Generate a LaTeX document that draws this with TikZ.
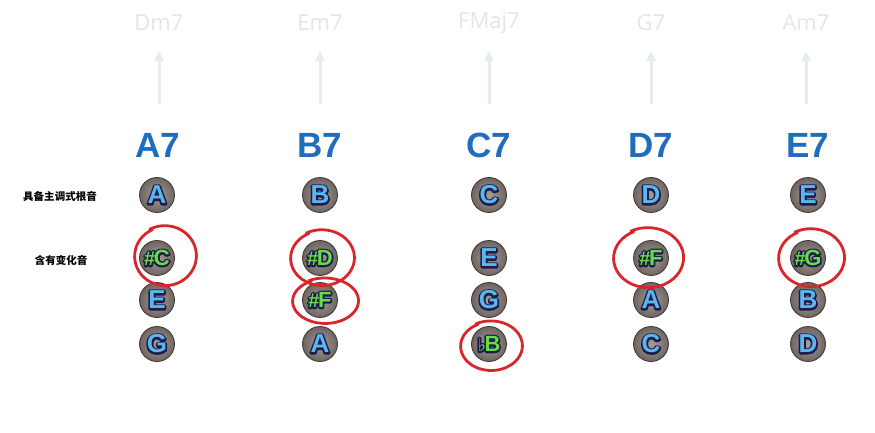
\documentclass[tikz,border=0pt]{standalone}
\usepackage{fontspec}
\setmainfont{Liberation Sans}
\newfontfamily\cjk{Noto Sans CJK SC}
\newfontfamily\dvs{DejaVu Sans}
\newfontfamily\topf{Open Sans}
\usetikzlibrary{arrows.meta,calc}
\definecolor{chordblue}{HTML}{1F6DBE}
\definecolor{topgray}{HTML}{E2E6E9}
\definecolor{arrowgray}{HTML}{E4ECF1}
\definecolor{noteblue}{HTML}{5BB6EE}
\definecolor{notenavy}{HTML}{1C1C4C}
\definecolor{notegreen}{HTML}{66DD44}
\definecolor{ballin}{HTML}{A89E99}
\definecolor{ballout}{HTML}{6E6460}
\definecolor{ballrim}{HTML}{3E3634}
\definecolor{ringred}{HTML}{D8262B}
% outlined text: a stroked copy underneath (PDF render mode 1), the filled text on top
\newcommand\olt[2]{{\setbox0=\hbox{#2}%
  \rlap{\color{notenavy}\special{pdf:literal direct 1 Tr 3.4 w 1 j 0.11 0.11 0.30 RG}\copy0\special{pdf:literal direct 0 Tr}}%
  \color{#1}\box0}}
\newcommand\shp[1]{\olt{notegreen}{{\fontsize{20}{20}\selectfont\#}\kern-1.5pt#1}}
\newcommand\flt[1]{\olt{notegreen}{{\dvs\fontsize{18}{18}\selectfont ♭}\kern-1.5pt#1}}
\newcommand\nt[1]{\olt{noteblue}{#1}}
\tikzset{
  ball/.style={circle, minimum size=35pt, inner sep=0pt, draw=ballrim, line width=0.8pt,
    inner color=ballin, outer color=ballout, font=\fontsize{26}{26}\selectfont\bfseries},
  sharpball/.style={ball, font=\fontsize{22}{22}\selectfont\bfseries},
  chordlab/.style={font=\fontsize{35}{35}\selectfont\bfseries, text=chordblue, inner sep=0pt},
  toplab/.style={font=\topf\fontsize{22}{22}\selectfont, text=topgray, inner sep=0pt},
  toparrow/.style={draw=arrowgray, line width=3pt, -{Triangle[width=9pt,length=10pt]}},
  sidelab/.style={font=\cjk\bfseries\fontsize{10.5}{11}\selectfont, inner sep=0pt},
  redring/.style={draw=ringred, line width=2.8pt, line cap=round, line join=round}
}
\newcommand\ring[5]{% node, dx, dy, rx, ry
  \draw[redring, shift={($(#1)+(#2,#3)$)}] plot[smooth, domain=115:478, samples=50]
    ({#4*(1+0.07*(\x-115)/363)*cos(\x)},{#5*(1+0.05*(\x-115)/363)*sin(-\x)});}
\begin{document}
\begin{tikzpicture}[x=1pt,y=-1pt]
\fill[white] (0,0) rectangle (875,433);
\useasboundingbox (0,0) rectangle (875,433);
% top chords
\foreach \n/\x/\t in {1/159/Dm7,2/320/Em7,3/489/FMaj7,4/651/G7,5/806/Am7}{
  \node[toplab] (t\n) at (\x,23) {\t};
  \coordinate (ab\n) at (\x,104);
  \coordinate (at\n) at (\x,51);
  \draw[toparrow] (ab\n) -- (at\n);
}
% chord labels
\node[chordlab] (c1) at (158,145) {A7};
\node[chordlab] (c2) at (320,145) {B7};
\node[chordlab] (c3) at (489,145) {C7};
\node[chordlab] (c4) at (651,145) {D7};
\node[chordlab] (c5) at (808,145) {E7};
% side labels
\node[sidelab] (s1) at (60,196) {具备主调式根音};
\node[sidelab] (s2) at (61,260) {含有变化音};
% notes
\node[ball] (a1) at (157,195) {\nt{A}};
\node[sharpball] (a2) at (157,258) {\shp{C}};
\node[ball] (a3) at (157,300) {\nt{E}};
\node[ball] (a4) at (157,344) {\nt{G}};
\node[ball] (b1) at (320,195) {\nt{B}};
\node[sharpball] (b2) at (320,258) {\shp{D}};
\node[sharpball] (b3) at (320,300) {\shp{F}};
\node[ball] (b4) at (320,344) {\nt{A}};
\node[ball] (d1) at (489,195) {\nt{C}};
\node[ball] (d2) at (489,258) {\nt{E}};
\node[ball] (d3) at (489,300) {\nt{G}};
\node[sharpball] (d4) at (489,344) {\flt{B}};
\node[ball] (e1) at (651,195) {\nt{D}};
\node[sharpball] (e2) at (651,258) {\shp{F}};
\node[ball] (e3) at (651,300) {\nt{A}};
\node[ball] (e4) at (651,344) {\nt{C}};
\node[ball] (f1) at (808,195) {\nt{E}};
\node[sharpball] (f2) at (808,258) {\shp{G}};
\node[ball] (f3) at (808,300) {\nt{B}};
\node[ball] (f4) at (808,344) {\nt{D}};
% red rings
\ring{a2}{8}{-2}{30}{29}
\ring{b2}{2}{0}{31}{27}
\ring{b3}{5}{1}{32}{22}
\ring{d4}{2}{2}{30}{24}
\ring{e2}{-3}{0}{34}{29}
\ring{f2}{3}{0}{32}{28}
\end{tikzpicture}
\end{document}
